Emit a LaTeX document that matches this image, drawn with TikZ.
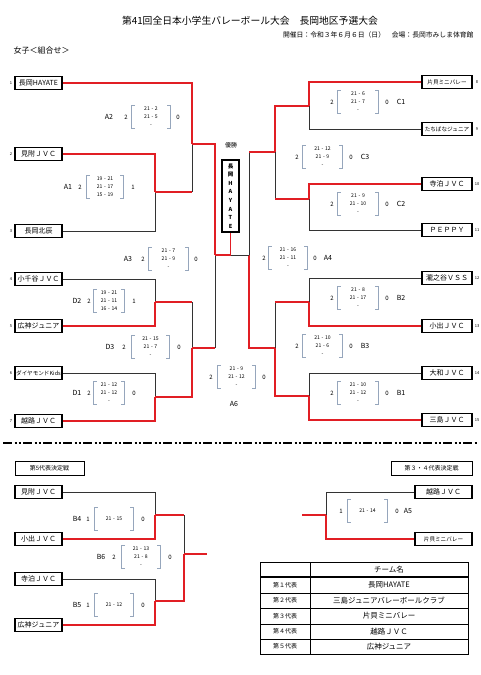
\documentclass[tikz,border=0pt]{standalone}
\usepackage{fontspec}
\setmainfont{Noto Sans CJK JP}
\usetikzlibrary{positioning}
\definecolor{winred}{RGB}{225,30,36}
\definecolor{brgray}{RGB}{150,166,188}

\begin{document}
\begin{tikzpicture}[
  x=1pt, y=-1pt,
  team/.style={draw, fill=white, line width=1.1pt, minimum width=47pt, minimum height=13pt, inner sep=0pt, font=\fontsize{7}{8}\selectfont},
  rteam/.style={team, minimum width=50pt},
  small/.style={font=\fontsize{5.6}{6}\selectfont},
  win/.style={draw=winred, line width=1.7pt},
  lose/.style={draw=black!80, line width=1pt},
  num/.style={inner sep=0pt, font=\fontsize{4}{4}\selectfont},
  sc/.style={text width=#1, minimum height=23pt, inner sep=0pt, align=center, font=\fontsize{5.1}{8}\selectfont},
  gw/.style={inner sep=0pt, font=\fontsize{6}{6}\selectfont},
  mlab/.style={inner sep=0pt, font=\fontsize{7}{7}\selectfont},
  brk/.style={draw=brgray, line width=0.8pt},
  headbox/.style={draw, line width=0.9pt, inner sep=0pt, minimum height=14pt, font=\fontsize{6}{6}\selectfont}
]
  \useasboundingbox (0,0) rectangle (480,675);

  % heading
  \node[font=\fontsize{9.8}{10}\selectfont] (title) at (250,21) {第41回全日本小学生バレーボール大会　長岡地区予選大会};
  \node[anchor=east, font=\fontsize{6.8}{7}\selectfont] (date) at (477,35) {開催日：令和３年６月６日（日）　会場：長岡市みしま体育館};
  \node[anchor=west, font=\fontsize{8}{9}\selectfont] (grp) at (10,50) {女子＜組合せ＞};

  % junctions
  \coordinate (A1) at (155,192);
  \coordinate (A2) at (192,144);
  \coordinate (D2) at (155,302);
  \coordinate (D1) at (155,397);
  \coordinate (D3) at (192,348);
  \coordinate (A3) at (215,255);
  \coordinate (C1) at (309,106);
  \coordinate (C2) at (309,199);
  \coordinate (C3) at (275,152);
  \coordinate (B2) at (309,302);
  \coordinate (B1) at (309,396);
  \coordinate (B3) at (275,348);
  \coordinate (A4) at (249,255);

  % teams left
  \node[team] (t1) at (38.5,83)  {長岡HAYATE};
  \node[team] (t2) at (38.5,154) {見附ＪＶＣ};
  \node[team] (t3) at (38.5,231) {長岡北辰};
  \node[team] (t4) at (38.5,279) {小千谷ＪＶＣ};
  \node[team] (t5) at (38.5,326) {広神ジュニア};
  \node[team, small] (t6) at (38.5,373) {ダイヤモンドKids};
  \node[team] (t7) at (38.5,421) {越路ＪＶＣ};
  % teams right
  \node[rteam, small] (t8)  at (447,82)  {片貝ミニバレー};
  \node[rteam, small] (t9)  at (447,129) {たちばなジュニア};
  \node[rteam] (t10) at (447,184) {寺泊ＪＶＣ};
  \node[rteam] (t11) at (447,230) {ＰＥＰＰＹ};
  \node[rteam] (t12) at (447,278) {瀧之谷ＶＳＳ};
  \node[rteam] (t13) at (447,326) {小出ＪＶＣ};
  \node[rteam] (t14) at (447,373) {大和ＪＶＣ};
  \node[rteam] (t15) at (447,420) {三島ＪＶＣ};

  \node[num] (n1) at (11,83)  {1};
  \node[num] (n2) at (11,154) {2};
  \node[num] (n3) at (11,231) {3};
  \node[num] (n4) at (11,279) {4};
  \node[num] (n5) at (11,326) {5};
  \node[num] (n6) at (11,373) {6};
  \node[num] (n7) at (11,421) {7};
  \node[num] (n8)  at (477,82)  {8};
  \node[num] (n9)  at (477,129) {9};
  \node[num] (n10) at (477,184) {10};
  \node[num] (n11) at (477,230) {11};
  \node[num] (n12) at (477,278) {12};
  \node[num] (n13) at (477,326) {13};
  \node[num] (n14) at (477,373) {14};
  \node[num] (n15) at (477,420) {15};

  % champion
  \node[font=\fontsize{6}{6}\selectfont] (yusho) at (231,145) {優勝};
  \node[draw, fill=white, line width=1.1pt, minimum width=17pt, minimum height=72pt, inner sep=0pt, align=center,
        font=\fontsize{5.5}{8.6}\selectfont\bfseries] (champ) at (230.5,196) {長\\岡\\H\\A\\Y\\A\\T\\E};

  % edges left
  \draw[lose] (t3.east) -| (A1);
  \draw[lose] (A1 -| A2) -- (A2);
  \draw[lose] (t4.east) -| (D2);
  \draw[lose] (t6.east) -| (D1);
  \draw[lose] (D2 -| D3) -- (D3);
  \draw[lose] (D3 -| A3) -- (A3);
  \draw[win] (t2.east) -| (A1);
  \draw[win] (A1) -- (A1 -| A2);
  \draw[win] (t1.east) -| (A2);
  \draw[win] (A2) -| (A3);
  \draw[win] (t5.east) -| (D2);
  \draw[win] (t7.east) -| (D1);
  \draw[win] (D2) -- (D2 -| D3);
  \draw[win] (D1) -| (D3);
  \draw[win] (D3) -- (D3 -| A3);
  % edges right
  \draw[lose] (t9.west) -| (C1);
  \draw[lose] (t11.west) -| (C2);
  \draw[lose] (C2 -| C3) -- (C3);
  \draw[lose] (C3 -| A4) -- (A4);
  \draw[lose] (t12.west) -| (B2);
  \draw[lose] (t14.west) -| (B1);
  \draw[lose] (B2 -| B3) -- (B3);
  \draw[win] (t8.west) -| (C1);
  \draw[win] (t10.west) -| (C2);
  \draw[win] (C1) -| (C3);
  \draw[win] (C2) -- (C2 -| C3);
  \draw[win] (C3) -- (C3 -| A4);
  \draw[win] (t13.west) -| (B2);
  \draw[win] (t15.west) -| (B1);
  \draw[win] (B2) -- (B2 -| B3);
  \draw[win] (B1) -| (B3);
  \draw[win] (B3) -| (A4);
  % final
  \draw[lose] (A4) -- (A4 -| champ.south);
  \draw[win] (A3) -| (champ.south);

  % scores
  \node[sc=38pt] (sA2) at (151,117) {21 - 2\\21 - 5\\-};
  \node[sc=36pt] (sA1) at (105,187) {19 - 21\\21 - 17\\15 - 19};
  \node[sc=39pt] (sA3) at (168.5,259) {21 - 7\\21 - 9\\-};
  \node[sc=30pt] (sD2) at (109,301) {19 - 21\\21 - 11\\16 - 14};
  \node[sc=37pt] (sD3) at (150.5,347) {21 - 15\\21 - 7\\-};
  \node[sc=30pt] (sD1) at (109,393) {21 - 12\\21 - 12\\-};
  \node[sc=37pt] (sA6) at (236.5,377) {21 - 9\\21 - 12\\-};
  \node[sc=38pt] (sA4) at (288,258) {21 - 16\\21 - 11\\-};
  \node[sc=40pt] (sC1) at (358,102) {21 - 6\\21 - 7\\-};
  \node[sc=39pt] (sC3) at (322.5,157) {21 - 12\\21 - 9\\-};
  \node[sc=40pt] (sC2) at (358,204) {21 - 9\\21 - 10\\-};
  \node[sc=40pt] (sB2) at (358,298) {21 - 8\\21 - 17\\-};
  \node[sc=39pt] (sB3) at (322.5,346) {21 - 10\\21 - 6\\-};
  \node[sc=40pt] (sB1) at (358,393) {21 - 10\\21 - 12\\-};

  \node[gw, left=4pt of sA2] (wA2) {2};  \node[gw, right=6pt of sA2] (rA2) {0};
  \node[gw, left=5pt of sA1] (wA1) {2};  \node[gw, right=8pt of sA1] (rA1) {1};
  \node[gw, left=4pt of sA3] (wA3) {2};  \node[gw, right=6pt of sA3] (rA3) {0};
  \node[gw, left=3pt of sD2] (wD2) {2};  \node[gw, right=8pt of sD2] (rD2) {1};
  \node[gw, left=6pt of sD3] (wD3) {2};  \node[gw, right=8pt of sD3] (rD3) {0};
  \node[gw, left=3pt of sD1] (wD1) {2};  \node[gw, right=8pt of sD1] (rD1) {0};
  \node[gw, left=5pt of sA6] (wA6) {2};  \node[gw, right=7pt of sA6] (rA6) {0};
  \node[gw, left=3pt of sA4] (wA4) {2};  \node[gw, right=6pt of sA4] (rA4) {0};
  \node[gw, left=4pt of sC1] (wC1) {2};  \node[gw, right=7pt of sC1] (rC1) {0};
  \node[gw, left=4pt of sC3] (wC3) {2};  \node[gw, right=7pt of sC3] (rC3) {0};
  \node[gw, left=4pt of sC2] (wC2) {2};  \node[gw, right=7pt of sC2] (rC2) {0};
  \node[gw, left=4pt of sB2] (wB2) {2};  \node[gw, right=7pt of sB2] (rB2) {0};
  \node[gw, left=4pt of sB3] (wB3) {2};  \node[gw, right=7pt of sB3] (rB3) {0};
  \node[gw, left=4pt of sB1] (wB1) {2};  \node[gw, right=7pt of sB1] (rB1) {0};

  \node[mlab] (lA2) at (109,117) {A2};
  \node[mlab] (lA1) at (68,187)  {A1};
  \node[mlab] (lA3) at (128,259) {A3};
  \node[mlab] (lD2) at (77,301)  {D2};
  \node[mlab] (lD3) at (110,347) {D3};
  \node[mlab] (lD1) at (77,393)  {D1};
  \node[mlab] (lA6) at (234,404) {A6};
  \node[mlab] (lA4) at (328,258) {A4};
  \node[mlab] (lC1) at (401,102) {C1};
  \node[mlab] (lC3) at (365,157) {C3};
  \node[mlab] (lC2) at (401,204) {C2};
  \node[mlab] (lB2) at (401,298) {B2};
  \node[mlab] (lB3) at (365,346) {B3};
  \node[mlab] (lB1) at (401,393) {B1};

  % separator
  \coordinate (sepL) at (3,443);
  \coordinate (sepR) at (477,443);
  \draw[line width=1.4pt, dash pattern=on 9pt off 2.5pt on 2pt off 2pt on 2pt off 2.5pt] (sepL) -- (sepR);

  % 5th place
  \node[headbox, minimum width=69pt] (lab5) at (49.5,468) {第5代表決定戦};
  \node[team] (u1) at (38.5,492) {見附ＪＶＣ};
  \node[team] (u2) at (38.5,539) {小出ＪＶＣ};
  \node[team] (u3) at (38.5,579) {寺泊ＪＶＣ};
  \node[team] (u4) at (38.5,625) {広神ジュニア};
  \coordinate (B4) at (155,515);
  \coordinate (B5) at (155,601);
  \coordinate (B6) at (184,554);
  \coordinate (B6out) at (207,554);
  \draw[lose] (u1.east) -| (B4);
  \draw[lose] (u3.east) -| (B5);
  \draw[lose] (B4 -| B6) -- (B6);
  \draw[win] (u2.east) -| (B4);
  \draw[win] (u4.east) -| (B5);
  \draw[win] (B4) -- (B4 -| B6);
  \draw[win] (B5) -| (B6);
  \draw[win] (B6) -- (B6out);

  \node[sc=38pt] (sB4) at (114,519) {21 - 15};
  \node[sc=38pt] (sB6) at (141,557) {21 - 13\\21 - 8\\-};
  \node[sc=38pt] (sB5) at (114,605) {21 - 12};
  \node[gw, left=5pt of sB4] (wB4) {1};  \node[gw, right=8pt of sB4] (rB4) {0};
  \node[gw, left=6pt of sB6] (wB6) {2};  \node[gw, right=8pt of sB6] (rB6) {0};
  \node[gw, left=5pt of sB5] (wB5) {1};  \node[gw, right=8pt of sB5] (rB5) {0};
  \node[mlab] (lB4) at (77,519)  {B4};
  \node[mlab] (lB6) at (101,557) {B6};
  \node[mlab] (lB5) at (77,605)  {B5};

  % 3rd / 4th place
  \node[headbox, minimum width=81pt] (lab34) at (431.5,468) {第３・４代表決定戦};
  \node[team, minimum width=57pt] (v1) at (443.5,492) {越路ＪＶＣ};
  \node[team, small, minimum width=57pt] (v2) at (443.5,539) {片貝ミニバレー};
  \coordinate (A5) at (326,515);
  \coordinate (A5out) at (302,515);
  \draw[lose] (v1.west) -| (A5);
  \draw[win] (v2.west) -| (A5);
  \draw[win] (A5) -- (A5out);
  \node[sc=39pt] (sA5) at (367.5,511) {21 - 14};
  \node[gw, left=5pt of sA5] (wA5) {1};  \node[gw, right=8pt of sA5] (rA5) {0};
  \node[mlab] (lA5) at (408,511) {A5};

  % brackets
  \foreach \s in {sA1,sA2,sA3,sA4,sA5,sA6,sB1,sB2,sB3,sB4,sB5,sB6,sC1,sC2,sC3,sD1,sD2,sD3} {
    \draw[brk] ([xshift=3pt]\s.north west) -- (\s.north west) -- (\s.south west) -- ([xshift=3pt]\s.south west);
    \draw[brk] ([xshift=-3pt]\s.north east) -- (\s.north east) -- (\s.south east) -- ([xshift=-3pt]\s.south east);
  }

  % table
  \draw[line width=0.9pt] (260,562) rectangle (468,654);
  \draw[line width=0.9pt] (310,562) -- (310,654);
  \draw[line width=1.2pt] (260,577) -- (468,577);
  \foreach \y in {593,608,624,639}
    \draw[line width=0.6pt] (260,\y) -- (468,\y);
  \node[font=\fontsize{7.5}{8}\selectfont] (hd) at (389,569.5) {チーム名};
  \foreach \y/\n/\t [count=\k] in {585/１/長岡HAYATE, 600.5/２/三島ジュニアバレーボールクラブ, 616/３/片貝ミニバレー, 631.5/４/越路ＪＶＣ, 646.5/５/広神ジュニア} {
    \node[font=\fontsize{6}{6}\selectfont] (rl\k) at (285,\y) {第\n 代表};
    \node[font=\fontsize{7.5}{8}\selectfont] (rv\k) at (389,\y) {\t};
  }
\end{tikzpicture}
\end{document}
